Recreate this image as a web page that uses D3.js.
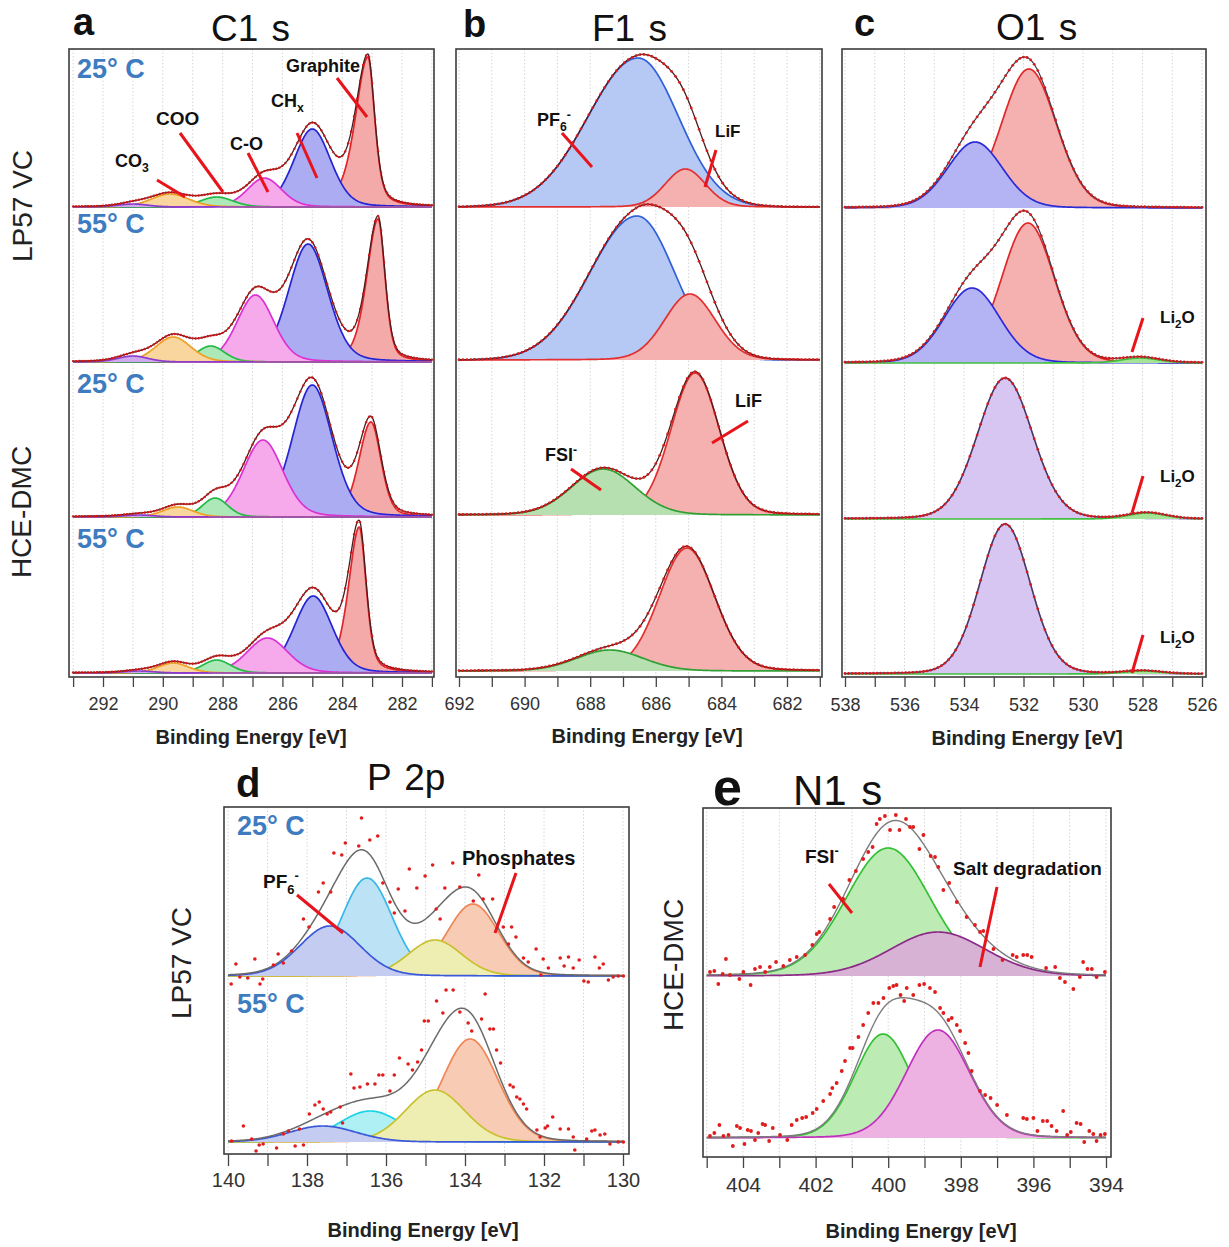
<!DOCTYPE html>
<html>
<head>
<meta charset="utf-8">
<script src="https://cdn.jsdelivr.net/npm/d3@7"></script>
<style>
  body { margin: 0; background: #fff; }
  svg text { font-family: "Liberation Sans", Arial, sans-serif; }
</style>
</head>
<body>
<div id="chart"></div>
<script>
// Fitted components: [centre eV, height, fwhm on high-BE side, fwhm on low-BE side, lorentz share]
// heights are in the same arbitrary unit for every spectrum of a panel

// ---- C1 s
const c1sNames = ["Graphite", "CHx", "C-O", "COO", "CO3", "O-CO-O"];
const c1sLp25 = [[283.14, 150, 1.0, 0.54, 0.5], [285.0, 78, 1.45, 1.45], [286.6, 29, 1.35, 1.35], [288.2, 10, 1.3, 1.3], [289.76, 13, 1.5, 1.5], [291.0, 3, 1.2, 1.2]];
const c1sLp55 = [[282.8, 143, 0.9, 0.55, 0.4], [285.14, 118, 1.55, 1.55], [286.9, 67, 1.45, 1.45], [288.4, 16, 1.1, 1.1], [289.65, 25, 1.4, 1.4], [291.0, 6, 1.2, 1.2]];
const c1sHce25 = [[283.04, 95, 0.95, 0.8, 0.3], [285.0, 132, 1.57, 1.57], [286.65, 77, 1.57, 1.57], [288.25, 19, 1.0, 1.0], [289.5, 10, 1.2, 1.2], [290.8, 2, 1.2, 1.2]];
const c1sHce55 = [[283.43, 146, 0.85, 0.55, 0.45], [284.97, 77, 1.5, 1.5], [286.5, 35, 1.6, 1.6], [288.2, 13, 1.1, 1.1], [289.65, 10, 1.2, 1.2], [290.8, 2, 1.2, 1.2]];

// ---- F1 s
const f1sNames = ["PF6-", "LiF", "FSI-"];
const f1sLp25 = [[686.54, 149, 3.6, 2.9, 0], [685.1, 38, 1.45, 1.45], [687.6, 0, 2.3, 2.3]];
const f1sLp55 = [[686.57, 144, 3.4, 2.7, 0], [684.96, 66, 1.83, 1.83], [687.6, 0, 2.3, 2.3]];
const f1sHce25 = [[686.5, 0, 3.0, 3.0], [684.8, 142, 1.74, 1.74], [687.6, 46, 2.3, 2.3]];
const f1sHce55 = [[686.5, 0, 3.0, 3.0], [685.05, 123, 2.0, 2.0], [687.4, 21, 2.4, 2.4]];

// ---- O1 s
const o1sNames = ["C=O", "C-O", "HCE-DMC", "Li2O"];
const o1sLp25 = [[531.82, 139, 2.18, 2.18], [533.63, 66, 2.18, 2.18], [532.6, 0, 2.1, 2.1], [528.0, 0, 1.5, 1.5]];
const o1sLp55 = [[531.85, 140, 2.1, 2.1], [533.73, 75, 2.2, 2.2], [532.6, 0, 2.1, 2.1], [528.08, 5, 1.5, 1.5]];
const o1sHce25 = [[531.8, 0, 2.1, 2.1], [533.7, 0, 2.2, 2.2], [532.62, 141, 2.18, 2.18], [527.85, 6, 1.5, 1.5]];
const o1sHce55 = [[531.8, 0, 2.1, 2.1], [533.7, 0, 2.2, 2.2], [532.62, 150, 2.0, 2.0], [528.0, 3, 1.5, 1.5]];

// ---- P 2p (drawing order)
const p2pNames = ["Phosphates 2", "PF6- 2", "Phosphates 1", "PF6- 1"];
const p2p25 = [[133.8, 72, 1.55, 1.55], [136.48, 98, 1.5, 1.5], [134.76, 36, 1.6, 1.6], [137.42, 50, 1.8, 1.8]];
const p2p55 = [[133.87, 103, 1.67, 1.67], [136.4, 31, 1.9, 1.9], [134.76, 52, 1.77, 1.77], [137.6, 16, 2.0, 2.0]];

// ---- N1 s
const n1sNames = ["FSI-", "Salt degradation"];
const n1s25 = [[400.0, 128, 2.75, 2.75], [398.63, 44, 3.1, 3.1]];
const n1s55 = [[400.14, 104, 1.85, 1.85], [398.63, 108, 2.07, 2.07]];

// measured points [eV, intensity] of the noisy spectra
const p2pDots25 = [[139.92,-8],[139.8,12],[139.7,-1],[139.5,-2],[139.32,17],[139.19,-8],[139.12,-3],[138.85,11],[138.73,22],[138.6,13],
  [138.39,25],[138.09,57],[137.95,49],[137.71,84],[137.59,93],[137.4,84],[137.32,123],[137.12,121],[137.03,133],[136.69,130],
  [136.62,158],[136.41,136],[136.21,140],[136.08,93],[135.9,74],[135.79,63],[135.69,87],[135.52,65],[135.41,107],[135.22,88],
  [135.01,100],[134.82,111],[134.73,67],[134.63,57],[134.51,88],[134.31,113],[134.13,89],[133.79,75],[133.65,101],[133.54,77],
  [133.3,77],[133.03,49],[132.9,32],[132.82,49],[132.71,39],[132.52,18],[132.4,14],[132.2,27],[132.08,1],[132.02,17],
  [131.89,8],[131.59,18],[131.49,10],[131.38,19],[131.26,8],[131.11,16],[130.99,-5],[130.88,-6],[130.71,19],[130.6,8],
  [130.5,12],[130.37,-4],[130.25,-1],[130.12,0],[129.99,0]];
const p2pDots55 = [[139.91,1],[139.61,16],[139.4,3],[139.29,-9],[139.21,-3],[139.11,-2],[138.77,-6],[138.6,8],[138.47,11],[138.3,-4],
  [138.19,13],[138.09,-3],[137.94,28],[137.8,37],[137.69,40],[137.59,33],[137.49,28],[137.4,30],[137.16,35],[137.1,19],
  [136.89,68],[136.81,54],[136.66,55],[136.47,58],[136.28,58],[136.18,67],[136.08,67],[135.9,51],[135.79,67],[135.66,84],
  [135.44,78],[135.33,72],[135.2,80],[135.1,92],[135.03,121],[134.93,121],[134.72,141],[134.56,129],[134.48,152],[134.3,152],
  [134.13,130],[133.92,119],[133.83,111],[133.58,123],[133.49,148],[133.37,113],[133.28,113],[133.2,92],[133.1,79],[132.86,57],
  [132.78,55],[132.69,45],[132.61,43],[132.52,38],[132.44,33],[132.18,12],[132.1,5],[131.97,14],[131.91,16],[131.78,25],
  [131.59,13],[131.38,13],[131.26,5],[131.22,-8],[130.92,3],[130.79,11],[130.71,12],[130.58,7],[130.46,8],[130.33,-2],
  [130.12,0],[129.99,0]];
const n1sDots25 = [[404.91,4],[404.79,5],[404.68,-8],[404.56,2],[404.47,17],[404.36,1],[404.1,-3],[403.99,4],[403.79,-9],[403.67,7],
  [403.53,9],[403.39,4],[403.26,9],[403.09,14],[402.89,10],[402.71,16],[402.52,19],[402.29,21],[402.09,31],[401.97,42],
  [401.9,44],[401.6,57],[401.49,69],[401.24,77],[401.07,96],[400.89,105],[400.69,117],[400.55,124],[400.43,129],[400.32,152],
  [400.23,157],[400.09,160],[399.95,146],[399.79,161],[399.69,146],[399.51,157],[399.4,149],[399.31,149],[399.14,127],[399.03,141],
  [398.83,120],[398.71,119],[398.62,109],[398.48,86],[398.32,93],[398.11,74],[397.84,59],[397.61,51],[397.47,44],[397.38,45],
  [397.1,27],[396.85,16],[396.57,21],[396.46,19],[396.28,21],[396.17,21],[396.05,19],[395.65,8],[395.4,9],[395.27,-2],
  [395.13,-6],[394.9,-13],[394.72,-1],[394.63,14],[394.51,7],[394.39,7],[394.26,-1],[394.03,4]];
const n1sDots55 = [[404.91,2],[404.79,5],[404.65,13],[404.54,2],[404.4,3],[404.28,-8],[404.17,12],[404.08,10],[403.96,-6],[403.87,8],
  [403.78,7],[403.67,-2],[403.58,5],[403.46,14],[403.39,13],[403.28,-3],[403.18,10],[402.98,3],[402.78,-2],[402.66,13],
  [402.52,18],[402.37,20],[402.26,21],[402.08,25],[401.97,29],[401.79,37],[401.6,44],[401.54,50],[401.42,55],[401.28,67],
  [401.19,77],[401.05,90],[400.98,90],[400.82,101],[400.69,113],[400.55,125],[400.41,135],[400.27,135],[400.13,140],[399.97,150],
  [399.86,152],[399.77,153],[399.66,143],[399.56,137],[399.49,150],[399.31,143],[399.14,153],[399.01,154],[398.85,150],[398.71,146],
  [398.57,130],[398.48,125],[398.34,118],[398.25,120],[398.11,113],[398.02,107],[397.88,95],[397.79,85],[397.7,67],[397.47,47],
  [397.33,43],[397.18,40],[397.0,33],[396.73,23],[396.28,20],[396.18,19],[396.0,20],[395.89,7],[395.74,17],[395.62,17],
  [395.5,12],[395.36,7],[395.18,27],[395.07,3],[394.97,6],[394.81,15],[394.7,14],[394.6,-4],[394.46,7],[394.35,4],
  [394.26,-3],[394.15,3],[394.03,4]];

const rowLabels = ["LP57 VC", "HCE-DMC"];
const tempLabels = ["25° C", "55° C"];
const axisTitle = "Binding Energy [eV]";

const W = 1229, H = 1247;
const tempColor = "#3e7cbf";
const noteRed = "#e8141c";

const svg = d3.select("#chart").append("svg")
  .attr("width", W).attr("height", H)
  .style("background", "#fff");

function peak(x, p, eta) {
  const [c, h, wHi, wLo, e = eta] = p;
  const w = x >= c ? wHi : wLo;
  const r = (x - c) / w;
  const g = Math.exp(-4 * Math.LN2 * r * r);
  const l = 1 / (1 + 4 * r * r);
  return h * ((1 - e) * g + e * l);
}

function richText(parent, x, y, parts, size, weight, fill) {
  const t = parent.append("text").attr("x", x).attr("y", y)
    .attr("font-size", size).attr("font-weight", weight).attr("fill", fill || "#111");
  let shift = 0;
  parts.forEach((p) => {
    const [s, kind] = Array.isArray(p) ? p : [p, null];
    const target = kind === "sub" ? size * 0.3 : kind === "sup" ? -size * 0.4 : 0;
    const ts = t.append("tspan").text(s).attr("dy", target - shift);
    if (kind) ts.attr("font-size", size * 0.68);
    shift = target;
  });
  return t;
}

const panels = [
  {
    letter: "a", title: "C1 s", letterPos: [73, 35], letterSize: 38, titlePos: [211, 41], titleSize: 37,
    frame: [69, 49, 434, 677], ticksAt: [292, 282, 103, 402], range: [293, 281],
    baselines: [207, 362, 517, 673], spectra: [c1sLp25, c1sLp55, c1sHce25, c1sHce55],
    fills: ["#f5aaaa", "#acacf2", "#f6aaec", "#ace8b8", "#f8d69e", "#d0a8ee"],
    strokes: ["#e2242a", "#2424d2", "#da32d2", "#24b846", "#eea024", "#8c3ccc"],
    eta: 0.2, env: "#4a1c1c", envW: 1.3, dotStep: 0.1, dotR: 1.2, dotColor: "#cc1818", dots: null,
    tickSize: 10, tickPad: 10, tickFs: 18, axisY: 744, axisX: 251,
    temps: [[77, 78, 0], [77, 233, 1], [77, 393, 0], [77, 548, 1]],
    rows: [[22, 206, 0], [21, 512, 1]]
  },
  {
    letter: "b", title: "F1 s", letterPos: [463, 37], letterSize: 38, titlePos: [592, 41], titleSize: 37,
    frame: [456, 49, 822, 677], ticksAt: [692, 682, 459, 787], range: [692, 681],
    baselines: [207, 360, 515, 671], spectra: [f1sLp25, f1sLp55, f1sHce25, f1sHce55],
    fills: ["#b6c8f4", "#f5b0b0", "#b6e0b0"],
    strokes: ["#3060d8", "#e23030", "#30a034"],
    eta: 0.1, env: "#4a1c1c", envW: 1.3, dotStep: 0.12, dotR: 1.4, dotColor: "#d41c1c", dots: null,
    tickSize: 10, tickPad: 10, tickFs: 18, axisY: 743, axisX: 647,
    temps: [], rows: []
  },
  {
    letter: "c", title: "O1 s", letterPos: [854, 36], letterSize: 38, titlePos: [996, 40], titleSize: 37,
    frame: [842, 49, 1206, 677], ticksAt: [538, 526, 845, 1202], range: [538, 526],
    baselines: [208, 363, 519, 674], spectra: [o1sLp25, o1sLp55, o1sHce25, o1sHce55],
    fills: ["#f5b0b0", "#b4b4f4", "#d8c6f2", "#a4e496"],
    strokes: ["#e02828", "#2a2ad6", "#9468d4", "#40c040"],
    eta: 0.1, env: "#3a3a4a", envW: 1.2, dotStep: 0.12, dotR: 1.4, dotColor: "#d41c1c", dots: null,
    tickSize: 10, tickPad: 11, tickFs: 18, axisY: 745, axisX: 1027,
    temps: [], rows: []
  },
  {
    letter: "d", title: "P 2p", letterPos: [236, 797], letterSize: 40, titlePos: [367, 790], titleSize: 37,
    frame: [224, 807, 629, 1154], ticksAt: [140, 130, 228, 623], range: [140, 130],
    baselines: [976, 1142], spectra: [p2p25, p2p55],
    fills: ["#f8ccb4", "#bce2f6", "#eeeeb2", "#c4ccf2"],
    strokes: ["#f08656", "#38b8e8", "#c8c030", "#3a58d8"],
    // second spectrum uses a brighter cyan for the second PF6- component
    fillsAlt: { 1: { 1: ["#aef0f4", "#1ad4e6"] } },
    eta: 0.1, env: "#6a6a6a", envW: 1.5, dotR: 1.8, dotColor: "#e01c1c", dots: [p2pDots25, p2pDots55],
    tickSize: 12, tickPad: 7, tickFs: 20, axisY: 1237, axisX: 423,
    temps: [[237, 835, 0], [237, 1013, 1]],
    rows: [[181, 963, 0]]
  },
  {
    letter: "e", title: "N1 s", letterPos: [713, 805], letterSize: 52, titlePos: [793, 805], titleSize: 42,
    frame: [703, 808, 1111, 1157], ticksAt: [404, 394, 743, 1106], range: [405, 394],
    baselines: [976, 1138], spectra: [n1s25, n1s55],
    fills: ["#bcecb4", "#d8b2d4"],
    strokes: ["#34c034", "#8c2a88"],
    fillsAlt: { 1: { 1: ["#eeb2e2", "#c030bc"] } },
    eta: 0.1, env: "#7c7c7c", envW: 1.4, dotR: 1.9, dotColor: "#e01c1c", dots: [n1sDots25, n1sDots55],
    tickSize: 11, tickPad: 9, tickFs: 21, axisY: 1238, axisX: 921,
    temps: [],
    rows: [[673, 965, 1]]
  }
];

panels.forEach(drawPanel);

function drawPanel(p) {
  const g = svg.append("g");
  const [fx0, fy0, fx1, fy1] = p.frame;
  const x = d3.scaleLinear().domain([p.ticksAt[0], p.ticksAt[1]]).range([p.ticksAt[2], p.ticksAt[3]]);
  const lo = Math.min(p.range[0], p.range[1]);
  const hi = Math.max(p.range[0], p.range[1]);
  const tickVals = d3.range(lo, hi + 1);

  // grid
  g.append("g").selectAll("line").data(tickVals.filter((v) => x(v) > fx0 + 2 && x(v) < fx1 - 2))
    .join("line")
    .attr("x1", (d) => x(d)).attr("x2", (d) => x(d))
    .attr("y1", fy0).attr("y2", fy1)
    .attr("stroke", "#d6d6d6").attr("stroke-width", 1).attr("stroke-dasharray", "1.5,2");

  const xs = d3.range(hi, lo - 1e-9, -0.02);

  p.spectra.forEach((peaks, i) => {
    const base = p.baselines[i];
    const y = d3.scaleLinear().domain([0, 100]).range([base, base - 100]);
    const sg = g.append("g");

    peaks.forEach((pk, k) => {
      if (pk[1] <= 0) return;
      const alt = p.fillsAlt && p.fillsAlt[i] && p.fillsAlt[i][k];
      const fill = alt ? alt[0] : p.fills[k];
      const stroke = alt ? alt[1] : p.strokes[k];
      const area = d3.area().x((d) => x(d)).y0(base).y1((d) => y(peak(d, pk, p.eta)));
      const line = d3.line().x((d) => x(d)).y((d) => y(peak(d, pk, p.eta)));
      sg.append("path").attr("d", area(xs)).attr("fill", fill);
      sg.append("path").attr("d", line(xs)).attr("fill", "none")
        .attr("stroke", stroke).attr("stroke-width", 1.7);
    });

    const total = (v) => d3.sum(peaks, (pk) => (pk[1] > 0 ? peak(v, pk, p.eta) : 0));
    sg.append("path")
      .attr("d", d3.line().x((d) => x(d)).y((d) => y(total(d)))(xs))
      .attr("fill", "none").attr("stroke", p.env).attr("stroke-width", p.envW);

    let pts;
    if (p.dots) pts = p.dots[i];
    else pts = d3.range(hi, lo - 1e-9, -p.dotStep).map((v) => [v, total(v)]);
    sg.append("g").selectAll("circle").data(pts).join("circle")
      .attr("cx", (d) => x(d[0])).attr("cy", (d) => y(d[1]))
      .attr("r", p.dotR).attr("fill", p.dotColor);
  });

  // frame
  g.append("rect").attr("x", fx0).attr("y", fy0)
    .attr("width", fx1 - fx0).attr("height", fy1 - fy0)
    .attr("fill", "none").attr("stroke", "#3c3c3c").attr("stroke-width", 1.6);

  // axis
  const axis = d3.axisBottom(x).tickValues(tickVals)
    .tickSize(p.tickSize).tickPadding(p.tickPad)
    .tickFormat((v) => (v % 2 === 0 ? v : ""));
  const ag = g.append("g").attr("transform", `translate(0,${fy1})`).call(axis);
  ag.select(".domain").remove();
  ag.selectAll(".tick line").attr("stroke", "#444").attr("stroke-width", 1.3);
  ag.selectAll(".tick text").attr("font-size", p.tickFs).attr("fill", "#333")
    .attr("font-family", "'Liberation Sans', Arial, sans-serif");

  g.append("text").attr("x", p.axisX).attr("y", p.axisY)
    .attr("text-anchor", "middle").attr("font-size", 20).attr("font-weight", "bold")
    .attr("font-family", "'Open Sans', sans-serif").attr("fill", "#222")
    .text(axisTitle);

  // titles
  g.append("text").attr("x", p.letterPos[0]).attr("y", p.letterPos[1])
    .attr("font-size", p.letterSize).attr("font-weight", "bold").attr("fill", "#111").text(p.letter);
  g.append("text").attr("x", p.titlePos[0]).attr("y", p.titlePos[1])
    .attr("font-size", p.titleSize).attr("word-spacing", 3).attr("fill", "#111").text(p.title);

  p.temps.forEach(([tx, ty, k]) => {
    g.append("text").attr("x", tx).attr("y", ty).attr("font-size", 27).attr("font-weight", "bold")
      .attr("fill", tempColor).text(tempLabels[k]);
  });
  p.rows.forEach(([rx, ry, k]) => {
    g.append("text").attr("transform", `translate(${rx},${ry}) rotate(-90)`)
      .attr("text-anchor", "middle").attr("dy", "0.36em")
      .attr("font-size", 28).attr("fill", "#222").text(rowLabels[k]);
  });
}

// annotations: pointer lines and component names
const notes = svg.append("g");
const pointers = [
  [337, 78, 367, 117], [297, 133, 317, 178], [248, 153, 268, 192], [180, 133, 223, 192], [157, 180, 185, 197],
  [562, 133, 592, 167], [716, 150, 705, 187], [748, 421, 712, 443], [571, 469, 601, 490],
  [1143, 318, 1132, 352], [1143, 476, 1132, 513], [1143, 635, 1132, 673],
  [297, 895, 343, 933], [516, 873, 495, 933],
  [829, 884, 852, 913], [997, 887, 980, 967]
];
notes.selectAll("line").data(pointers).join("line")
  .attr("x1", (d) => d[0]).attr("y1", (d) => d[1]).attr("x2", (d) => d[2]).attr("y2", (d) => d[3])
  .attr("stroke", noteRed).attr("stroke-width", 3);

richText(notes, 286, 72, ["Graphite"], 18, "bold");
richText(notes, 271, 107, ["CH", ["x", "sub"]], 18, "bold");
richText(notes, 230, 150, ["C-O"], 18, "bold");
richText(notes, 156, 125, ["COO"], 19, "bold");
richText(notes, 115, 167, ["CO", ["3", "sub"]], 18, "bold");
richText(notes, 537, 126, ["PF", ["6", "sub"], ["-", "sup"]], 18, "bold");
richText(notes, 715, 137, ["LiF"], 17, "bold");
richText(notes, 735, 407, ["LiF"], 18, "bold");
richText(notes, 545, 461, ["FSI", ["-", "sup"]], 18, "bold");
[323, 482, 643].forEach((yy) => {
  richText(notes, 1160, yy, ["Li", ["2", "sub"], "O"], 17, "600").attr("font-family", "Lato, sans-serif");
});
richText(notes, 263, 888, ["PF", ["6", "sub"], ["-", "sup"]], 19, "bold");
richText(notes, 462, 865, ["Phosphates"], 20, "bold");
richText(notes, 805, 863, ["FSI", ["-", "sup"]], 19, "bold");
richText(notes, 953, 875, ["Salt degradation"], 19, "bold");
</script>
</body>
</html>
